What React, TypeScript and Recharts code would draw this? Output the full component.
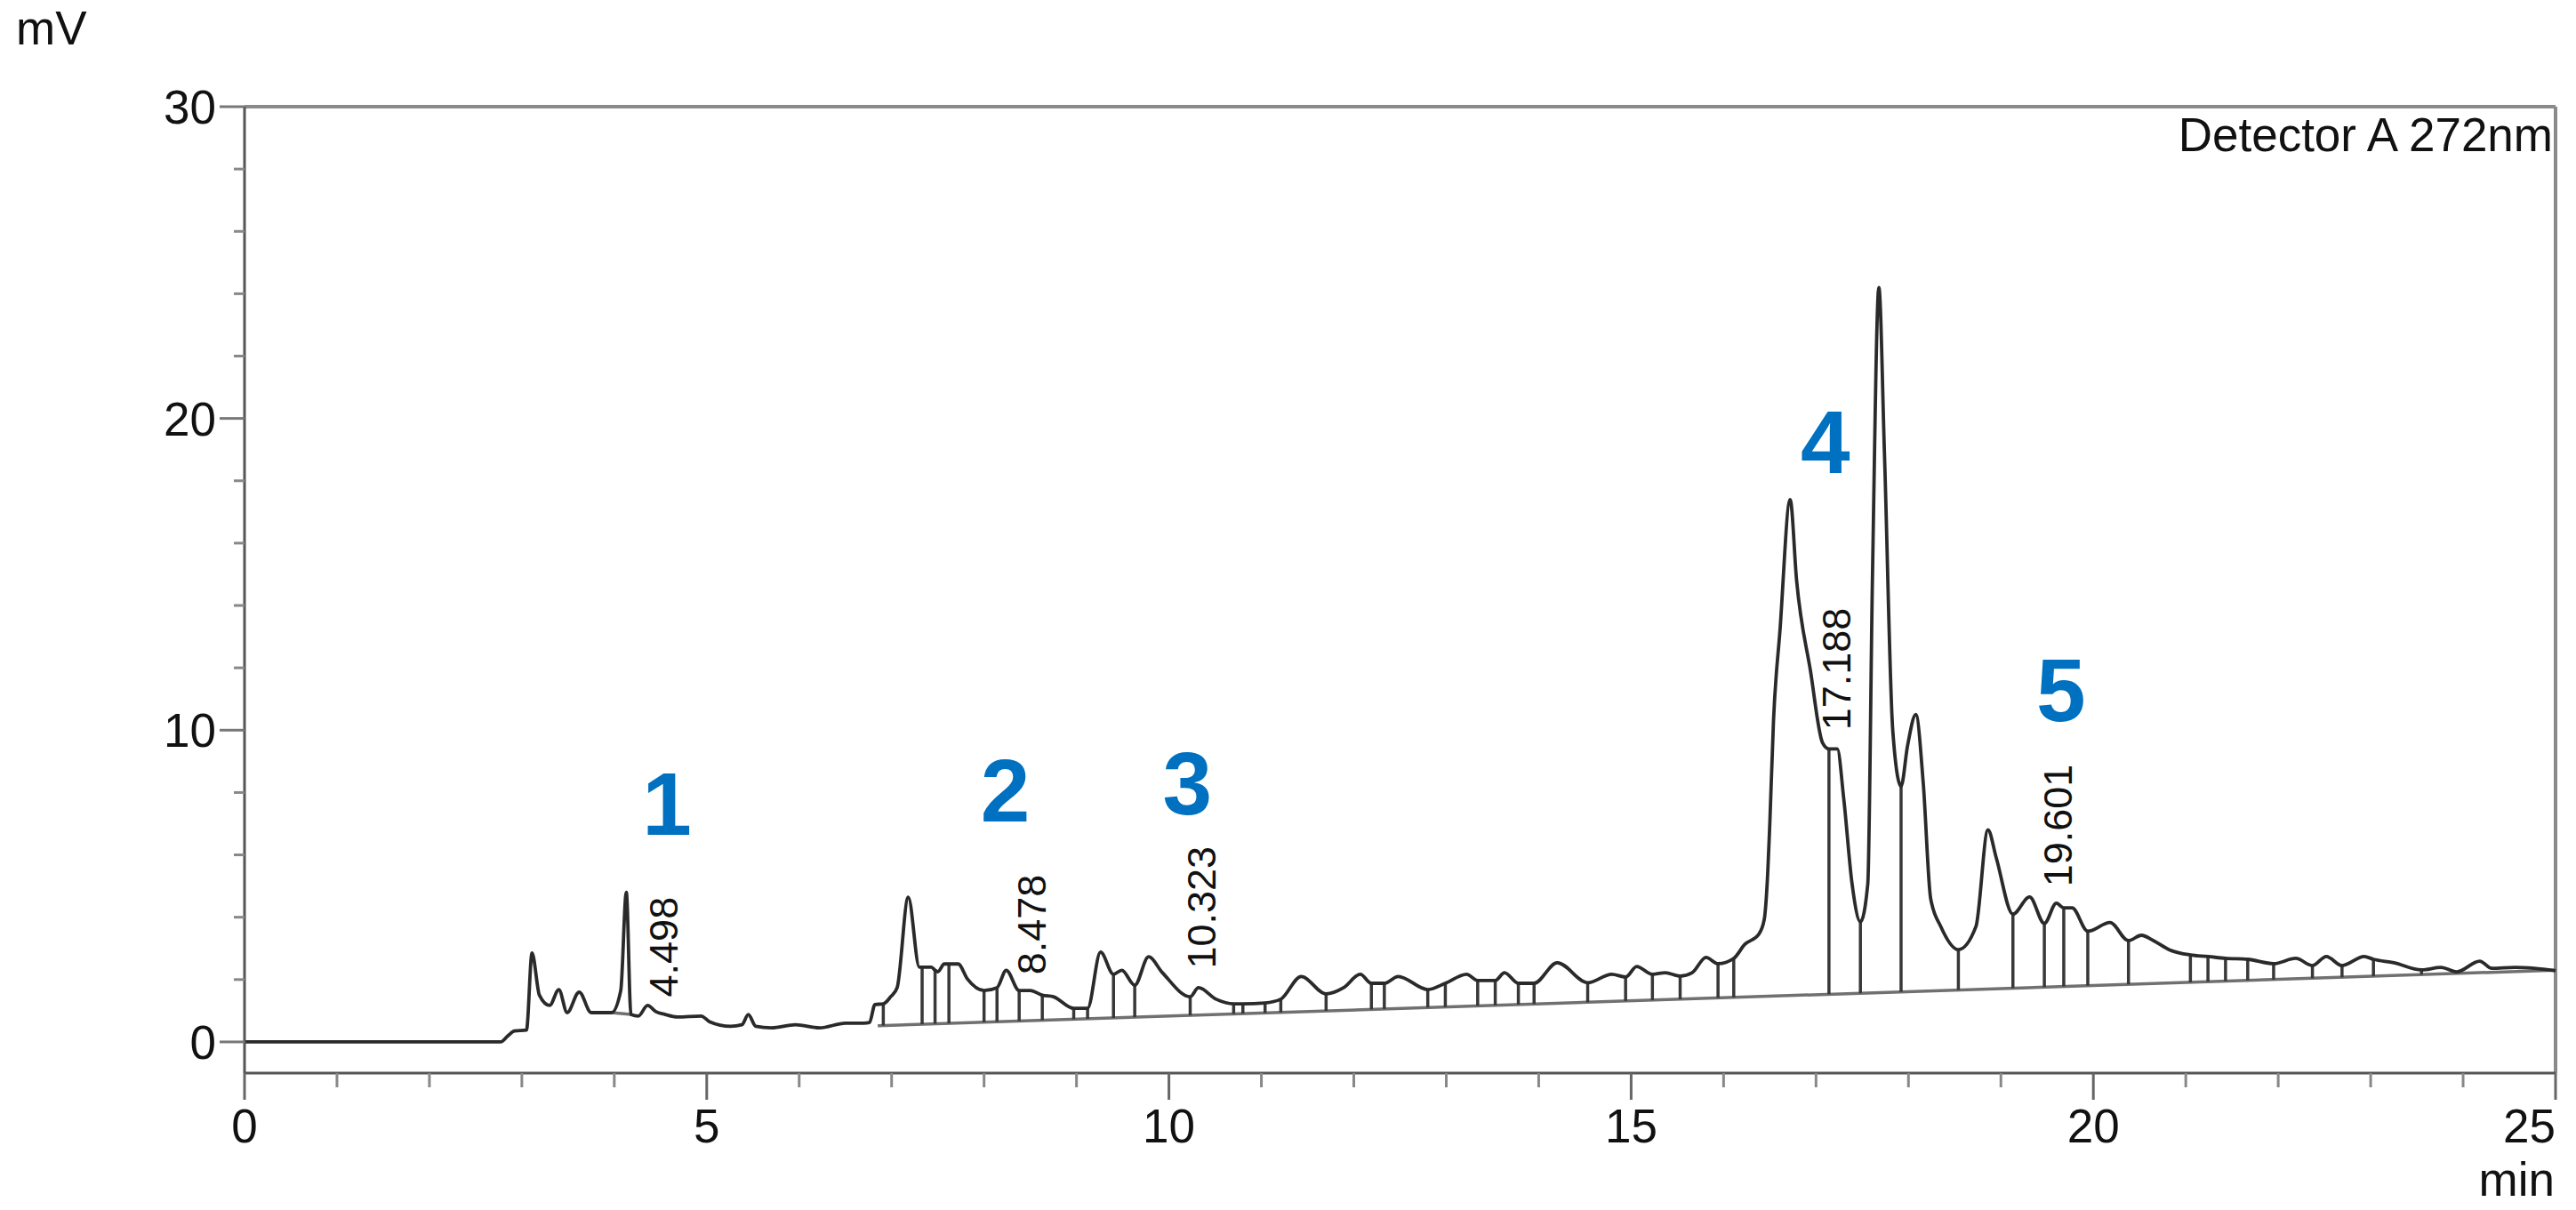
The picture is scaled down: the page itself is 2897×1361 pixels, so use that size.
import { LineChart, Line, XAxis, YAxis, ReferenceLine, ReferenceDot, Label } from "recharts";

// retention time (min) and detector signal (mV)
const retTime = [
  0, 1, 2, 2.77, 2.85, 2.92, 3.05, 3.11, 3.19, 3.3, 3.4, 3.49, 3.62, 3.75, 3.97, 4.07, 4.13, 4.18,
  4.26, 4.36, 4.45, 4.55, 4.68, 4.94, 5.03, 5.26, 5.38, 5.45, 5.53, 5.7, 5.96, 6.22, 6.5, 6.7,
  6.76, 6.82, 6.91, 6.99, 7.06, 7.18, 7.3, 7.33, 7.43, 7.47, 7.5, 7.57, 7.62, 7.72, 7.82, 8.0,
  8.14, 8.24, 8.38, 8.5, 8.63, 8.75, 8.97, 9.12, 9.26, 9.4, 9.49, 9.63, 9.78, 9.93, 10.23, 10.32,
  10.51, 10.7, 10.8, 11.04, 11.21, 11.43, 11.7, 11.89, 12.07, 12.19, 12.33, 12.48, 12.8, 12.99,
  13.22, 13.34, 13.53, 13.63, 13.78, 13.95, 14.2, 14.53, 14.79, 14.94, 15.06, 15.23, 15.37, 15.53,
  15.66, 15.81, 15.94, 16.11, 16.23, 16.38, 16.44, 16.47, 16.5, 16.54, 16.61, 16.72, 16.79, 16.94,
  17.07, 17.14, 17.23, 17.3, 17.39, 17.48, 17.56, 17.61, 17.68, 17.74, 17.83, 17.92, 17.99, 18.08,
  18.16, 18.24, 18.35, 18.54, 18.73, 18.86, 18.95, 19.13, 19.31, 19.47, 19.6, 19.68, 19.77, 19.94,
  20.18, 20.38, 20.52, 20.65, 20.82, 21.05, 21.24, 21.43, 21.67, 21.95, 22.19, 22.37, 22.52, 22.69,
  22.93, 23.03, 23.25, 23.55, 23.76, 23.93, 24.18, 24.31, 24.56, 24.77, 25,
];
const signal = [
  0, 0, 0, 0, 0.2, 0.35, 0.38, 2.85, 1.5, 1.17, 1.68, 0.94, 1.6, 0.94, 0.94, 1.65, 4.8, 0.88,
  0.83, 1.17, 0.97, 0.88, 0.8, 0.83, 0.65, 0.5, 0.55, 0.88, 0.5, 0.45, 0.55, 0.45, 0.6, 0.6,
  0.62, 1.2, 1.22, 1.45, 1.74, 4.64, 2.4, 2.4, 2.4, 2.3, 2.25, 2.5, 2.5, 2.5, 2.02, 1.65,
  1.74, 2.3, 1.65, 1.65, 1.5, 1.45, 1.08, 1.08, 2.88, 2.17, 2.3, 1.82, 2.73, 2.22, 1.45, 1.74,
  1.37, 1.22, 1.22, 1.25, 1.37, 2.1, 1.54, 1.74, 2.17, 1.88, 1.88, 2.1, 1.68, 1.88,
  2.17, 1.97, 1.97, 2.22, 1.88, 1.88, 2.54, 1.9, 2.17, 2.08, 2.42, 2.17, 2.22, 2.11,
  2.22, 2.71, 2.51, 2.68, 3.13, 3.45, 3.93, 5.0, 7.0, 10.3, 13.2, 17.4, 14.8, 11.9,
  9.6, 9.4, 9.4, 7.8, 5.07, 3.85, 5.07, 14.8, 24.2, 18.9, 10.0, 8.2, 9.5, 10.5,
  8.3, 4.6, 3.7, 2.96, 3.7, 6.8, 5.9, 4.1, 4.65, 3.8, 4.45, 4.3, 4.3, 3.55,
  3.83, 3.25, 3.42, 3.25, 2.96, 2.79, 2.74, 2.68, 2.65, 2.51, 2.68, 2.45, 2.74, 2.45,
  2.74, 2.65, 2.54, 2.31, 2.39, 2.25, 2.59, 2.36, 2.39, 2.36, 2.28,
];

// integration baseline and peak drop lines
const baseT = [6.85, 25];
const baseMv = [0.52, 2.3];
const dropTimes = [
  6.91, 7.33, 7.47, 7.62, 8.0, 8.14, 8.38, 8.63, 8.97, 9.12, 9.4, 9.63, 10.23, 10.7, 10.8, 11.04,
  11.21, 11.7, 12.19, 12.33, 12.8, 12.99, 13.34, 13.53, 13.78, 13.95, 14.53, 14.94, 15.23, 15.53,
  15.94, 16.11, 17.14, 17.48, 17.92, 18.54, 19.13, 19.47, 19.68, 19.94, 20.38, 21.05, 21.24, 21.43,
  21.67, 21.95, 22.37, 22.69, 23.03, 23.55, 23.93,
];
// small baseline under the 4.1 min spike
const spikeBaseT = [3.97, 4.18];
const spikeBaseMv = [0.94, 0.88];

// retention time labels (rotated)
const rtLabels = ["4.498", "8.478", "10.323", "17.188", "19.601"];
const rtLabelX = [4.53, 8.51, 10.35, 17.22, 19.61];
const rtLabelY = [1.44, 2.16, 2.35, 10.0, 4.98];

// compound numbers
const peakNums = ["1", "2", "3", "4", "5"];
const peakNumX = [4.57, 8.23, 10.2, 17.1, 19.65];
const peakNumY = [6.64, 7.07, 7.3, 18.26, 10.29];

const xTicks = Array.from({ length: 26 }, (_, i) => i);
const yTicks = Array.from({ length: 16 }, (_, i) => i * 2);

const data = retTime.map((t, i) => ({ t, mv: signal[i] }));

const FONT = "'Liberation Sans', Arial, sans-serif";

const baseAt = (t: number) =>
  baseMv[0] + ((baseMv[1] - baseMv[0]) * (t - baseT[0])) / (baseT[1] - baseT[0]);
const signalAt = (t: number) => signal[retTime.indexOf(t)];

const XTick = (props: any) => {
  const { x, y, payload } = props;
  const v = payload.value;
  const major = v % 5 === 0;
  return (
    <g>
      <line x1={x} x2={x} y1={y} y2={y + (major ? 30 : 16)} stroke={major ? "#666" : "#888"} strokeWidth={3} />
      {major && (
        <text x={x} y={y + 78} textAnchor={v === 25 ? "end" : "middle"} fontSize={53} fontFamily={FONT} fill="#111">
          {v}
        </text>
      )}
    </g>
  );
};

const YTick = (props: any) => {
  const { x, y, payload } = props;
  const v = payload.value;
  const major = v % 10 === 0;
  return (
    <g>
      <line x1={x} x2={x - (major ? 28 : 12)} y1={y} y2={y} stroke={major ? "#777" : "#888"} strokeWidth={3} />
      {major && (
        <text x={x - 32} y={y + 19} textAnchor="end" fontSize={53} fontFamily={FONT} fill="#111">
          {v}
        </text>
      )}
    </g>
  );
};

const App = () => {
  return (
    <div style={{ position: "absolute", left: 0, top: 0, width: 2897, height: 1361, background: "#fff" }}>
      <LineChart width={2897} height={1361} data={data} margin={{ top: 120, right: 23, bottom: 54, left: 35 }}>
        <XAxis
          dataKey="t"
          type="number"
          domain={[0, 25]}
          ticks={xTicks}
          interval={0}
          height={100}
          tickSize={0}
          tickMargin={0}
          tickLine={false}
          axisLine={{ stroke: "#555", strokeWidth: 3 }}
          tick={(p: any) => <XTick {...p} />}
        >
          <Label
            content={() => (
              <text x={2873} y={1345} textAnchor="end" fontSize={53} fontFamily={FONT} fill="#111">
                min
              </text>
            )}
          />
        </XAxis>
        <YAxis
          type="number"
          domain={[-1, 30]}
          ticks={yTicks}
          interval={0}
          width={240}
          tickSize={0}
          tickMargin={0}
          tickLine={false}
          axisLine={{ stroke: "#555", strokeWidth: 3 }}
          tick={(p: any) => <YTick {...p} />}
        >
          <Label
            content={() => (
              <text x={18} y={50} fontSize={53} fontFamily={FONT} fill="#111">
                mV
              </text>
            )}
          />
        </YAxis>
        <ReferenceLine y={30} stroke="#8a8a8a" strokeWidth={4} />
        <ReferenceLine x={25} stroke="#8a8a8a" strokeWidth={4} />
        <ReferenceLine
          segment={[
            { x: baseT[0], y: baseMv[0] },
            { x: baseT[1], y: baseMv[1] },
          ]}
          stroke="#707070"
          strokeWidth={3.5}
        />
        <ReferenceLine
          segment={[
            { x: spikeBaseT[0], y: spikeBaseMv[0] },
            { x: spikeBaseT[1], y: spikeBaseMv[1] },
          ]}
          stroke="#707070"
          strokeWidth={3.5}
        />
        {dropTimes.map((t) => (
          <ReferenceLine
            key={"d" + t}
            segment={[
              { x: t, y: baseAt(t) },
              { x: t, y: signalAt(t) },
            ]}
            stroke="#383838"
            strokeWidth={3.5}
          />
        ))}
        <Line
          type="monotone"
          dataKey="mv"
          stroke="#2a2a2a"
          strokeWidth={3.8}
          dot={false}
          isAnimationActive={false}
        />
        <ReferenceDot
          x={25}
          y={30}
          r={0}
          shape={(p: any) => (
            <text x={p.cx - 3} y={p.cy + 50} textAnchor="end" fontSize={53} fontFamily={FONT} fill="#111">
              Detector A 272nm
            </text>
          )}
        />
        {rtLabels.map((s, i) => (
          <ReferenceDot
            key={"rt" + s}
            x={rtLabelX[i]}
            y={rtLabelY[i]}
            r={0}
            shape={(p: any) => (
              <text
                x={p.cx}
                y={p.cy}
                dy="0.36em"
                transform={`rotate(-90 ${p.cx} ${p.cy})`}
                fontSize={45}
                fontFamily={FONT}
                fill="#111"
              >
                {s}
              </text>
            )}
          />
        ))}
        {peakNums.map((s, i) => (
          <ReferenceDot
            key={"n" + s}
            x={peakNumX[i]}
            y={peakNumY[i]}
            r={0}
            shape={(p: any) => (
              <text
                x={p.cx}
                y={p.cy}
                textAnchor="middle"
                fontSize={100}
                fontWeight="bold"
                fontFamily={FONT}
                fill="#0070C0"
              >
                {s}
              </text>
            )}
          />
        ))}
      </LineChart>
    </div>
  );
};

export default App;
